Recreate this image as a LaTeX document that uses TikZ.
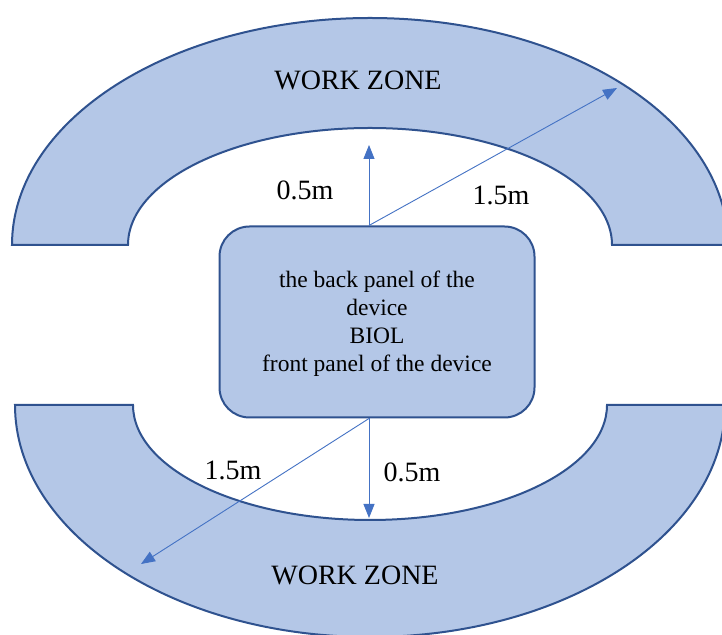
\documentclass[tikz,border=0pt]{standalone}
\usepackage{fontspec}
\setmainfont{Liberation Serif}
\usetikzlibrary{arrows.meta,positioning,calc}

\definecolor{zonefill}{HTML}{B4C7E7}
\definecolor{zoneline}{HTML}{2F528F}
\definecolor{dimline}{HTML}{4472C4}

\begin{document}
\begin{tikzpicture}[
			x=1pt, y=1pt,
			zone/.style={fill=zonefill, draw=zoneline, line width=2pt},
			device/.style={rectangle, rounded corners=30pt, fill=zonefill, draw=zoneline, line width=2pt, minimum width=315pt, minimum height=191pt, align=center, font=\fontsize{23.5}{28}\selectfont},
			dim/.style={draw=dimline, line width=0.9pt, -{Triangle[length=14pt,width=11pt]}},
			dimlabel/.style={font=\fontsize{28}{32}\selectfont},
			zonelabel/.style={font=\fontsize{28}{32}\selectfont}
	]
		\clip (0,0) rectangle (722,634);
		\useasboundingbox (0,0) rectangle (722,634);

		\fill[white] (0,0) rectangle (722,634);

		\draw[zone] (12,389) arc[start angle=180, end angle=0, x radius=358, y radius=227]
			-- (612,389) arc[start angle=0, end angle=180, x radius=242, y radius=117] -- cycle;
		\draw[zone] (15,229) arc[start angle=180, end angle=360, x radius=355, y radius=232]
			-- (607,229) arc[start angle=360, end angle=180, x radius=237, y radius=115] -- cycle;

		\node (topzone) at (358,554) [zonelabel] {WORK ZONE};
		\node (bottomzone) at (355,59) [zonelabel] {WORK ZONE};

		\node (biol) at (377,312) [device] {\\[-8pt]the back panel of the\\device\\BIOL\\front panel of the device};

		\coordinate (uptip) at (369,489);
		\coordinate (uprim) at (617,546);
		\coordinate (downtip) at (369,116);
		\coordinate (downrim) at (141,70);

		\draw [dim] (biol.north -| uptip) -- (uptip);
		\draw [dim] (biol.north -| uptip) -- (uprim);
		\draw [dim] (biol.south -| downtip) -- (downtip);
		\draw [dim] (biol.south -| downtip) -- (downrim);

		\node (uphalf) at (305,444) [dimlabel] {0.5m};
		\node (upone) at (501,439) [dimlabel] {1.5m};
		\node (downone) at (233,164) [dimlabel] {1.5m};
		\node (downhalf) at (412,162) [dimlabel] {0.5m};
	\end{tikzpicture}
\end{document}
